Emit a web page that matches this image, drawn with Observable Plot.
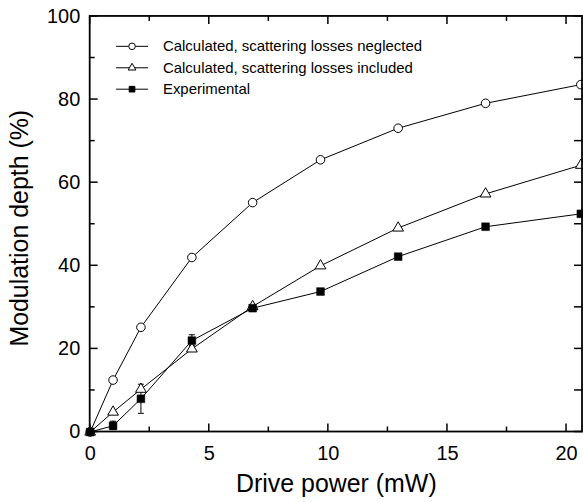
<!DOCTYPE html>
<html><head><meta charset="utf-8">
<script src="https://cdn.jsdelivr.net/npm/d3@7"></script>
<script src="https://cdn.jsdelivr.net/npm/@observablehq/plot@0.6"></script>
<style>
html,body{margin:0;padding:0;background:#fff;overflow:hidden;}
#chart{width:583px;height:502px;overflow:hidden;position:relative;}
</style></head><body><div id="chart"></div>
<script>
// Data
const power = [0, 0.96, 2.13, 4.27, 6.82, 9.67, 12.93, 16.6, 20.6];
const neglected = [0, 12.5, 25.2, 42.0, 55.2, 65.5, 73.1, 79.1, 83.6];
const included = [0, 4.8, 10.3, 20.0, 30.2, 40.0, 49.1, 57.3, 64.2];
const experimental = [0, 1.5, 8.0, 22.0, 29.8, 33.8, 42.2, 49.4, 52.5];
const errPower = [0.96, 2.13, 4.27];
const errLow = [0.6, 4.5, 20.8];
const errHigh = [2.6, 11.5, 23.4];
const seriesNames = ["Calculated, scattering losses neglected", "Calculated, scattering losses included", "Experimental"];
const xMajor = [0, 5, 10, 15, 20];
const xMinor = [2.5, 7.5, 12.5, 17.5];
const yMajor = [0, 20, 40, 60, 80, 100];
const yMinor = [10, 30, 50, 70, 90];
const xTitle = "Drive power (mW)";
const yTitle = "Modulation depth (%)";

const font = "'Liberation Sans', Arial, Helvetica, sans-serif";
const W = 585, H = 502, ML = 90, MR = 1, MT = 16, MB = 69;
const xDomain = [0, 20.67], yDomain = [0, 100];

const mk = (ys) => power.map((x, i) => ({x, y: ys[i]}));
const sNeg = mk(neglected), sInc = mk(included), sExp = mk(experimental);
const errs = errPower.map((x, i) => ({x, lo: errLow[i], hi: errHigh[i]}));

const hline = {draw(ctx, size) { const r = Math.sqrt(size / Math.PI); ctx.moveTo(-r, 0); ctx.lineTo(r, 0); }};

const legendSym = [
  {symbol: "circle", fill: "white", r: 3.3},
  {symbol: "triangle", fill: "white", r: 2.9},
  {symbol: "square", fill: "black", r: 3.2}
];
const legendDy = [30, 51.5, 73];
const legendMarks = [];
seriesNames.forEach((name, i) => {
  legendMarks.push(Plot.dot([name], {frameAnchor: "top-left", dx: 42, dy: legendDy[i], symbol: hline, r: 16, stroke: "black", strokeWidth: 1, fill: "none"}));
  legendMarks.push(Plot.dot([name], {frameAnchor: "top-left", dx: 42, dy: legendDy[i], symbol: legendSym[i].symbol, r: legendSym[i].r, stroke: "black", strokeWidth: 1, fill: legendSym[i].fill}));
  legendMarks.push(Plot.text([name], {frameAnchor: "top-left", dx: 73, dy: legendDy[i], text: d => d, textAnchor: "start", lineAnchor: "middle", fontSize: 15, fontFamily: font, fill: "black"}));
});

const chart = Plot.plot({
  width: W, height: H,
  marginLeft: ML, marginRight: MR, marginTop: MT, marginBottom: MB,
  style: {background: "white", fontFamily: font},
  x: {domain: xDomain, label: null},
  y: {domain: yDomain, label: null},
  marks: [
    Plot.axisX({anchor: "bottom", ticks: xMajor, tickSize: 0, tickPadding: 14, tickFormat: d => String(d), label: null, fill: "black", fontFamily: font, fontSize: 20}),
    Plot.axisY({anchor: "left", ticks: yMajor, tickSize: 0, tickPadding: 10, tickFormat: d => String(d), label: null, fill: "black", fontFamily: font, fontSize: 20}),
    Plot.line(sNeg, {x: "x", y: "y", stroke: "black", strokeWidth: 1}),
    Plot.line(sInc, {x: "x", y: "y", stroke: "black", strokeWidth: 1}),
    Plot.line(sExp, {x: "x", y: "y", stroke: "black", strokeWidth: 1}),
    Plot.ruleX(errs, {x: "x", y1: "lo", y2: "hi", stroke: "black", strokeWidth: 1}),
    Plot.dot(errs, {x: "x", y: "hi", symbol: hline, r: 3, stroke: "black", fill: "none", strokeWidth: 1}),
    Plot.dot(errs, {x: "x", y: "lo", symbol: hline, r: 3, stroke: "black", fill: "none", strokeWidth: 1}),
    Plot.dot(sNeg, {x: "x", y: "y", symbol: "circle", r: 4.3, fill: "white", stroke: "black", strokeWidth: 1}),
    Plot.dot(sInc, {x: "x", y: "y", symbol: "triangle", r: 4, fill: "white", stroke: "black", strokeWidth: 1}),
    Plot.dot(sExp, {x: "x", y: "y", symbol: "square", r: 4.4, fill: "black", stroke: "black", strokeWidth: 0.5}),
    ...legendMarks,
    Plot.text([xTitle], {frameAnchor: "bottom", dy: 60, text: d => d, textAnchor: "middle", lineAnchor: "bottom", fontSize: 25, fontFamily: font, fill: "black"}),
    Plot.text([yTitle], {frameAnchor: "left", dx: -62, dy: 4, rotate: -90, text: d => d, textAnchor: "middle", lineAnchor: "bottom", fontSize: 25, fontFamily: font, fill: "black"})
  ]
});
document.getElementById("chart").appendChild(chart);

// Frame and inward tick marks on all four sides, placed with Plot's own scales
const sx = chart.scale("x"), sy = chart.scale("y");
const x0 = sx.apply(xDomain[0]), x1 = sx.apply(xDomain[1]);
const y0 = sy.apply(yDomain[0]), y1 = sy.apply(yDomain[1]);
const g = d3.select(chart).append("g").attr("stroke", "black").attr("fill", "none");
const seg = (ax, ay, bx, by, w) => g.append("line").attr("x1", ax).attr("y1", ay).attr("x2", bx).attr("y2", by).attr("stroke-width", w);
xMajor.forEach(v => { const p = sx.apply(v); seg(p, y0, p, y0 - 8, 1.5); seg(p, y1, p, y1 + 8, 1.5); });
xMinor.forEach(v => { const p = sx.apply(v); seg(p, y0, p, y0 - 5, 1.5); seg(p, y1, p, y1 + 5, 1.5); });
yMajor.forEach(v => { const p = sy.apply(v); seg(x0, p, x0 + 8, p, 1.5); seg(x1, p, x1 - 8, p, 1.5); });
yMinor.forEach(v => { const p = sy.apply(v); seg(x0, p, x0 + 5, p, 1.5); seg(x1, p, x1 - 8, p, 1.5); });
g.append("rect").attr("x", x0).attr("y", y1).attr("width", x1 - x0).attr("height", y0 - y1).attr("stroke-width", 1.8);
</script>
</body></html>
